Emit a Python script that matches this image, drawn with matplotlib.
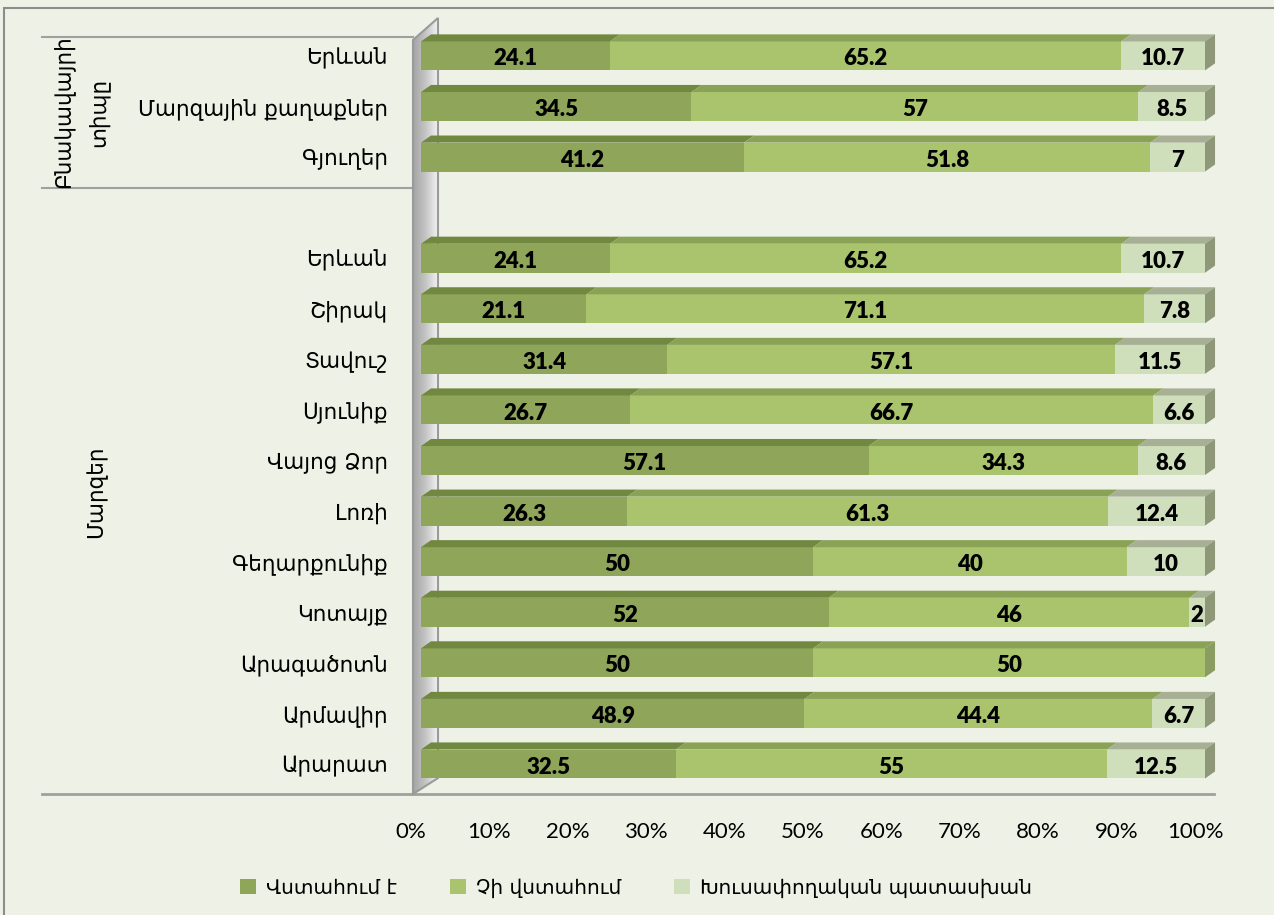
import matplotlib
matplotlib.use("Agg")
import matplotlib.pyplot as plt
import numpy as np
from matplotlib.patches import Polygon, Patch, Rectangle
from matplotlib.colors import LinearSegmentedColormap
from matplotlib.transforms import ScaledTranslation

# Բնակավայրի տիպը
settlements = ["Երևան", "Մարզային քաղաքներ", "Գյուղեր"]
settle_trust = [24.1, 34.5, 41.2]
settle_distrust = [65.2, 57, 51.8]
settle_evasive = [10.7, 8.5, 7]

# Մարզեր
regions = ["Երևան", "Շիրակ", "Տավուշ", "Սյունիք", "Վայոց Ձոր", "Լոռի",
           "Գեղարքունիք", "Կոտայք", "Արագածոտն", "Արմավիր", "Արարատ"]
region_trust = [24.1, 21.1, 31.4, 26.7, 57.1, 26.3, 50, 52, 50, 48.9, 32.5]
region_distrust = [65.2, 71.1, 57.1, 66.7, 34.3, 61.3, 40, 46, 50, 44.4, 55]
region_evasive = [10.7, 7.8, 11.5, 6.6, 8.6, 12.4, 10, 2, 0, 6.7, 12.5]

series_names = ["Վստահում է", "Չի վստահում", "Խուսափողական պատասխան"]
x_ticks = [0, 10, 20, 30, 40, 50, 60, 70, 80, 90, 100]

BG = "#EEF2E6"
FRONT = ["#8FA55A", "#AAC46E", "#D0DFBB"]
TOP = ["#718840", "#8AA255", "#A7AF94"]
SIDE = ["#6E8440", "#8A9C62", "#8E9879"]
ARM = ["DejaVu Sans"]

W, H = 1274, 915
fig = plt.figure(figsize=(W / 100, H / 100), dpi=100, facecolor=BG)

# background layer in pixel coordinates
bg = fig.add_axes([0, 0, 1, 1], zorder=0)
bg.set_xlim(0, W)
bg.set_ylim(H, 0)
bg.axis("off")
bg.add_patch(Rectangle((4, 8), W + 10, H + 10, facecolor=BG, edgecolor="#8C8C8C", lw=1.5))

# side wall with a grey gradient
wall = Polygon([(413, 794), (413, 40), (438, 18), (438, 778)],
               closed=True, facecolor="none", edgecolor="#9A9A9A", lw=1.5, zorder=3)
bg.add_patch(wall)
cmap = LinearSegmentedColormap.from_list("wall", ["#A4A4A4", "#C4C4C4", "#F2F2F2"])
grad = bg.imshow(np.linspace(0, 1, 64).reshape(1, -1), cmap=cmap, aspect="auto",
                 extent=(413, 438, 794, 18), zorder=2)
grad.set_clip_path(wall)
bg.set_xlim(0, W)
bg.set_ylim(H, 0)

bg.plot([42, 413], [37, 37], color="#A0A0A0", lw=1.5)
bg.plot([42, 413], [188, 188], color="#A0A0A0", lw=1.5)
bg.plot([42, 1214], [794, 794], color="#A0A0A0", lw=2)

# row slots: settlement rows 0-2, empty slot 3, regions 4-14
labels = settlements + regions
slots = list(range(3)) + list(range(4, 15))
trust = settle_trust + region_trust
distrust = settle_distrust + region_distrust
evasive = settle_evasive + region_evasive

ax = fig.add_axes([421 / W, (H - 794) / H, 784 / W, (794 - 18) / H], zorder=1)
ax.patch.set_alpha(0)
ax.set_xlim(0, 100)
ax.set_ylim(14.593, -0.750)
for s in ax.spines.values():
    s.set_visible(False)

bar_h = 0.573
dx, dy = 1.28, 0.14

lefts = [0.0] * len(slots)
for k, vals in enumerate([trust, distrust, evasive]):
    ax.barh(slots, vals, left=lefts, height=bar_h, color=FRONT[k], edgecolor="none", zorder=2)
    for i, (y, v, l) in enumerate(zip(slots, vals, lefts)):
        if v <= 0:
            continue
        top = y - bar_h / 2
        ax.add_patch(Polygon([(l, top), (l + dx, top - dy), (l + v + dx, top - dy), (l + v, top)],
                             closed=True, facecolor=TOP[k], edgecolor="none", zorder=2, clip_on=False))
        ax.text(l + v / 2, y + 0.06, f"{v:g}", ha="center", va="center", fontsize=16,
                fontweight="heavy", family="Lato", color="black", zorder=4)
    lefts = [l + v for l, v in zip(lefts, vals)]

# right side faces
for i, y in enumerate(slots):
    last = 2 if evasive[i] > 0 else 1
    r = lefts[i]
    top, bot = y - bar_h / 2, y + bar_h / 2
    ax.add_patch(Polygon([(r, top), (r + dx, top - dy), (r + dx, bot - dy), (r, bot)],
                         closed=True, facecolor=SIDE[last], edgecolor="none", zorder=2, clip_on=False))

ax.set_yticks(slots)
ax.set_yticklabels(labels, family=ARM, fontsize=15.5)
ax.tick_params(axis="y", length=0, pad=24)
ax.set_xticks(x_ticks)
ax.set_xticklabels([f"{t}%" for t in x_ticks], family="Lato", fontsize=16)
ax.tick_params(axis="x", length=0, pad=20)
shift = ScaledTranslation(-10 / 100, 0, fig.dpi_scale_trans)
for lab in ax.get_xticklabels():
    lab.set_transform(lab.get_transform() + shift)

# group labels (one text per line)
bg.text(63, 112, "Բնակավայրի", rotation=90, ha="center", va="center",
        family=ARM, fontsize=15.5)
bg.text(98, 112, "տիպը", rotation=90, ha="center", va="center",
        family=ARM, fontsize=15.5)
bg.text(96, 492, "Մարզեր", rotation=90, ha="center", va="center", family=ARM, fontsize=15.5)

handles = [Patch(facecolor=c, edgecolor="none") for c in FRONT]
fig.legend(handles, series_names, loc="center", bbox_to_anchor=(636 / W, 27 / H), ncol=3,
           frameon=False, prop={"family": ARM, "size": 14.5}, handlelength=0.8,
           handleheight=0.8, handletextpad=0.5, columnspacing=2.6)

fig.savefig("out.png", dpi=100, facecolor=BG)
